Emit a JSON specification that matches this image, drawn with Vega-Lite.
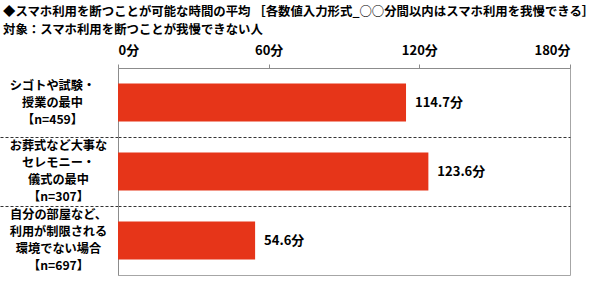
{
  "$schema": "https://vega.github.io/schema/vega-lite/v6.json",
  "width": 452,
  "height": 207,
  "autosize": "none",
  "padding": {"left": 118, "top": 68, "right": 30, "bottom": 6},
  "title": {
    "text": ["◆スマホ利用を断つことが可能な時間の平均 ［各数値入力形式_○○分間以内はスマホ利用を我慢できる］", "対象：スマホ利用を断つことが我慢できない人"],
    "anchor": "start",
    "frame": "group",
    "dx": -115,
    "fontSize": 12.4,
    "fontWeight": "bold",
    "lineHeight": 18,
    "offset": 8,
    "color": "#000000",
    "font": "Noto Sans CJK JP"
  },
  "data": {
    "values": [
      {"label": "シゴトや試験・|授業の最中|【n=459】", "v": 114.7},
      {"label": "お葬式など大事な|セレモニー・|儀式の最中|【n=307】", "v": 123.6},
      {"label": "自分の部屋など、|利用が制限される|環境でない場合|【n=697】", "v": 54.6}
    ]
  },
  "transform": [{"calculate": "format(datum.v, '.1f') + '分'", "as": "txt"}],
  "encoding": {
    "y": {
      "field": "label",
      "type": "nominal",
      "sort": null,
      "scale": {"paddingInner": 0, "paddingOuter": 0},
      "axis": {
        "title": null,
        "bandPosition": 0,
        "labelOffset": {"condition": {"test": "datum.index == 0", "value": -17}, "value": -25.5},
        "labelExpr": "split(datum.label, '|')",
        "labelAlign": "center",
        "labelBaseline": "middle",
        "labelLineHeight": 17,
        "labelPadding": {"condition": {"test": "datum.index == 0", "value": -52}, "value": -58},
        "labelFontSize": 12.2,
        "labelFontWeight": "bold",
        "labelColor": "#000000",
        "labelFont": "Noto Sans CJK JP",
        "labelLimit": 0,
        "tickSize": 118,
        "tickColor": "#333333",
        "tickDash": [3, 2],
        "tickWidth": 1,
        "tickOpacity": {"condition": {"test": "datum.index == 0", "value": 0}, "value": 1},
        "grid": true,
        "gridColor": "#333333",
        "gridDash": [3, 2],
        "gridWidth": 1,
        "gridOpacity": {"condition": {"test": "datum.index == 0", "value": 0}, "value": 1},
        "domainColor": "#8c8c8c"
      }
    }
  },
  "layer": [
    {
      "mark": {"type": "bar", "color": "#e63519", "height": {"band": 0.55}},
      "encoding": {
        "x": {
          "field": "v",
          "type": "quantitative",
          "scale": {"domain": [0, 180], "nice": false},
          "axis": {
            "orient": "top",
            "title": null,
            "values": [0, 60, 120, 180],
            "labelExpr": "datum.value + '分'",
            "labelFontSize": 13,
            "labelFontWeight": "bold",
            "labelColor": "#000000",
            "labelFont": "Noto Sans CJK JP",
            "labelPadding": 7,
            "tickSize": 4,
            "tickColor": "#8c8c8c",
            "domainColor": "#8c8c8c",
            "grid": false
          }
        }
      }
    },
    {
      "mark": {"type": "text", "align": "left", "baseline": "middle", "dx": 9, "fontSize": 13, "fontWeight": "bold", "color": "#000000", "font": "Noto Sans CJK JP"},
      "encoding": {
        "x": {"field": "v", "type": "quantitative"},
        "text": {"field": "txt", "type": "nominal"}
      }
    }
  ],
  "config": {
    "font": "Noto Sans CJK JP",
    "view": {"stroke": "#a6a6a6", "strokeWidth": 1}
  }
}
